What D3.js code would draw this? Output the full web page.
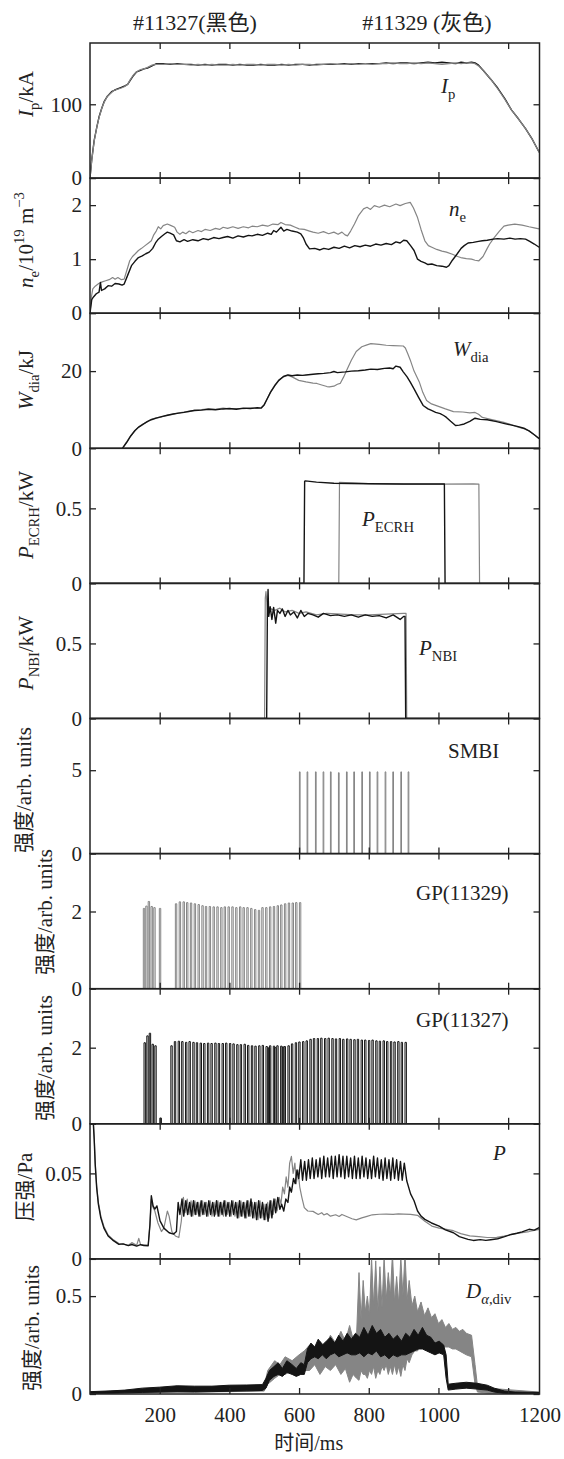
<!DOCTYPE html>
<html><head><meta charset="utf-8">
<script src="https://cdn.jsdelivr.net/npm/d3@7/dist/d3.min.js"></script>
<style>
body{margin:0;background:#fff}
svg text{fill:#222}
</style></head><body>
<svg id="chart" width="564" height="1459"></svg>
<script>
// time axis (ms)
var xMax = 1290;
var xTicks = [200, 400, 600, 800, 1000, 1200];
var xLabelAt = [200, 400, 600, 800, 1000, 1290];
var xLabels = ['200', '400', '600', '800', '1000', '1200'];

// Ip (kA)
var ipBlack = [[0,0],[5,25],[12,51],[20,70],[26,83],[34,95],[41,104],[50,111],[62,117],[70,119],[77,120.5],[90,123],[100,125],[108,127],[115,132],[125,139],[134,144],[145,146],[155,148],[165,149],[178,152],[191,155],[210,155],[230,154],[250,155],[270,154],[290,154],[310,153],[330,154],[350,153],[370,154],[390,154],[410,153],[430,154],[450,153],[470,153],[490,154],[510,153],[530,153],[550,154],[570,153],[590,154],[610,154],[630,153],[650,154],[670,154],[690,154],[710,154],[730,155],[750,154],[770,155],[790,155],[810,155],[830,155],[850,156],[870,155],[890,156],[910,156],[930,155],[950,156],[970,157],[990,156],[1010,157],[1030,156],[1050,155],[1065,157],[1080,156],[1095,157],[1105,156],[1115,153],[1130,145],[1150,134],[1170,122],[1190,108],[1210,92],[1230,80],[1250,67],[1270,52],[1289,35]];
var ipGray = [[0,0],[5,24],[12,50],[20,70],[26,82],[34,95],[41,103],[50,111],[62,116],[70,119],[77,120],[90,122],[100,124],[108,127],[115,133],[125,140],[134,144],[145,147],[155,148],[165,150],[178,153],[191,154],[210,154],[230,155],[250,154],[270,154],[290,153],[310,154],[330,153],[350,154],[370,153],[390,153],[410,154],[430,153],[450,154],[470,154],[490,153],[510,154],[530,154],[550,153],[570,154],[590,153],[610,154],[630,154],[650,153],[670,154],[690,155],[710,154],[730,154],[750,155],[770,154],[790,155],[810,154],[830,155],[850,155],[870,156],[890,155],[910,155],[930,156],[950,155],[970,156],[990,155],[1010,154],[1030,155],[1050,156],[1065,155],[1080,156],[1095,156],[1105,155],[1115,152],[1130,145],[1150,134],[1170,121],[1190,107],[1210,92],[1230,80],[1250,67],[1270,52],[1289,35]];

// ne (1e19 m^-3)
var neGray = [[0,0],[4,0.3],[8,0.45],[15,0.5],[25,0.55],[35,0.58],[45,0.6],[55,0.62],[65,0.66],[72,0.63],[80,0.66],[90,0.62],[98,0.63],[106,0.8],[114,0.97],[122,1.05],[130,1.1],[139,1.16],[148,1.2],[158,1.25],[168,1.3],[176,1.34],[183,1.45],[190,1.52],[196,1.6],[203,1.56],[210,1.62],[222,1.65],[233,1.62],[243,1.59],[250,1.5],[258,1.46],[266,1.5],[275,1.47],[285,1.52],[295,1.49],[310,1.53],[320,1.51],[330,1.55],[345,1.53],[360,1.57],[372,1.55],[382,1.59],[395,1.57],[410,1.6],[425,1.57],[440,1.6],[455,1.58],[465,1.61],[480,1.6],[495,1.63],[510,1.61],[525,1.65],[540,1.64],[548,1.68],[560,1.64],[575,1.63],[589,1.59],[600,1.56],[615,1.55],[630,1.52],[640,1.5],[655,1.48],[670,1.51],[685,1.47],[700,1.5],[712,1.46],[723,1.5],[732,1.45],[739,1.43],[748,1.52],[759,1.65],[770,1.8],[785,1.93],[795,1.96],[805,1.92],[816,1.99],[830,1.96],[845,2.0],[860,1.97],[878,2.02],[890,1.99],[905,2.03],[919,2.05],[928,1.95],[940,1.77],[950,1.55],[961,1.34],[971,1.25],[981,1.22],[995,1.18],[1010,1.15],[1023,1.13],[1040,1.09],[1055,1.05],[1064,1.03],[1080,1.01],[1095,1.0],[1105,0.98],[1116,0.97],[1128,1.05],[1140,1.2],[1147,1.28],[1160,1.4],[1175,1.52],[1188,1.61],[1200,1.63],[1219,1.65],[1240,1.63],[1260,1.6],[1275,1.58],[1289,1.56]];
var neBlack = [[0,0],[5,0.25],[10,0.3],[18,0.36],[26,0.39],[30,0.57],[33,0.42],[42,0.45],[52,0.51],[62,0.5],[72,0.55],[83,0.54],[92,0.52],[98,0.54],[108,0.7],[119,0.88],[129,0.96],[139,1.03],[150,1.06],[160,1.1],[170,1.13],[180,1.2],[188,1.3],[196,1.37],[205,1.42],[215,1.47],[222,1.5],[230,1.48],[240,1.45],[248,1.34],[258,1.32],[270,1.36],[280,1.33],[295,1.36],[310,1.34],[325,1.38],[340,1.36],[355,1.4],[370,1.38],[382,1.4],[395,1.42],[410,1.39],[425,1.43],[440,1.41],[455,1.44],[465,1.43],[480,1.46],[495,1.44],[510,1.48],[520,1.46],[527,1.53],[535,1.5],[548,1.59],[556,1.52],[565,1.55],[580,1.52],[595,1.5],[605,1.47],[612,1.4],[620,1.28],[630,1.19],[645,1.2],[660,1.17],[671,1.2],[685,1.18],[700,1.22],[715,1.2],[730,1.24],[745,1.21],[760,1.25],[775,1.23],[790,1.26],[805,1.24],[820,1.28],[835,1.26],[850,1.29],[865,1.27],[878,1.32],[890,1.3],[900,1.35],[909,1.34],[920,1.25],[930,1.16],[940,1.0],[950,0.96],[961,0.93],[970,0.9],[981,0.91],[995,0.88],[1010,0.87],[1023,0.85],[1030,0.88],[1040,0.98],[1054,1.1],[1065,1.2],[1074,1.25],[1085,1.3],[1100,1.31],[1115,1.33],[1126,1.34],[1140,1.35],[1157,1.37],[1170,1.38],[1188,1.37],[1205,1.39],[1220,1.37],[1235,1.38],[1250,1.37],[1262,1.33],[1275,1.28],[1289,1.22]];

// Wdia (kJ)
var wGray = [[93,0],[105,1.6],[117,3.3],[129,4.5],[140,5.6],[152,6.3],[164,6.8],[176,7.5],[190,7.9],[205,8.1],[220,8.6],[238,8.8],[255,9.2],[270,9.4],[285,9.5],[300,9.9],[320,10.0],[340,10.2],[360,10.1],[382,10.4],[400,10.2],[420,10.3],[440,10.3],[460,10.4],[480,10.4],[491,10.5],[500,11.2],[506,12.3],[518,14.6],[530,16.3],[542,17.7],[555,18.5],[568,18.9],[580,18.5],[599,17.6],[620,17.2],[640,16.9],[651,16.8],[665,16.4],[680,16.0],[687,15.9],[700,16.1],[710,16.6],[718,16.8],[728,18.5],[739,20.7],[750,22.8],[764,25.1],[780,26.3],[795,26.8],[806,27.1],[830,26.9],[850,26.7],[870,26.6],[899,26.5],[905,26.0],[912,24.5],[919,22.9],[930,20.0],[945,17.2],[955,14.5],[966,12.4],[980,11.5],[1002,10.8],[1020,10.2],[1043,9.5],[1070,9.4],[1090,9.2],[1105,9.3],[1115,8.8],[1126,8.0],[1150,7.5],[1188,6.7],[1210,6.1],[1229,5.5],[1245,5.1],[1260,4.5],[1275,3.5],[1289,2.5]];
var wBlack = [[93,0],[105,1.5],[117,3.2],[129,4.6],[140,5.5],[152,6.2],[164,6.9],[176,7.4],[190,7.8],[205,8.2],[220,8.5],[238,8.9],[255,9.1],[270,9.3],[285,9.6],[300,9.8],[320,9.9],[340,10.1],[360,10.0],[382,10.2],[400,10.3],[420,10.1],[440,10.4],[460,10.3],[480,10.5],[491,10.4],[500,11.3],[506,12.4],[518,14.5],[530,16.2],[542,17.6],[555,18.6],[568,19.0],[580,18.8],[595,19.0],[610,18.9],[620,19.0],[640,19.2],[655,19.3],[671,19.4],[690,19.6],[700,19.9],[710,19.6],[733,19.8],[750,20.0],[770,20.1],[790,20.3],[806,20.5],[825,20.4],[845,20.7],[860,20.8],[870,20.6],[878,21.3],[890,21.0],[899,19.8],[910,18.5],[920,17.0],[930,15.4],[943,13.2],[956,11.1],[970,10.2],[980,9.8],[992,9.3],[1005,9.0],[1015,8.5],[1023,8.0],[1035,7.0],[1049,5.9],[1060,6.0],[1074,6.3],[1090,7.0],[1105,7.8],[1120,7.5],[1140,7.4],[1167,6.9],[1190,6.4],[1210,6.0],[1229,5.6],[1245,5.2],[1260,4.5],[1275,3.5],[1289,2.5]];

// P_ECRH, P_NBI (kW, as labelled)
var ecrhBlack = [[0,0],[614,0],[616,0.68],[618,0.683],[650,0.675],[700,0.667],[800,0.664],[900,0.662],[1000,0.662],[1017,0.662],[1019,0],[1289,0]];
var ecrhGray = [[0,0],[714,0],[716,0.673],[800,0.665],[900,0.662],[1000,0.662],[1100,0.663],[1116,0.662],[1118,0],[1289,0]];
var nbiGray = [[0,0],[501,0],[503,0.8],[505,0.845],[510,0.7],[520,0.73],[530,0.72],[545,0.735],[560,0.71],[580,0.72],[600,0.7],[620,0.71],[650,0.69],[680,0.7],[720,0.695],[760,0.69],[800,0.69],[850,0.695],[900,0.7],[907,0.7],[909,0],[1289,0]];
var nbiBlack = [[0,0],[507,0],[509,0.7],[511,0.86],[513,0.68],[517,0.745],[522,0.66],[527,0.74],[533,0.635],[538,0.72],[545,0.7],[552,0.73],[560,0.68],[568,0.72],[575,0.69],[585,0.71],[595,0.67],[605,0.72],[615,0.68],[625,0.7],[640,0.69],[655,0.675],[670,0.7],[690,0.685],[710,0.69],[730,0.68],[750,0.69],[770,0.675],[790,0.69],[810,0.68],[830,0.685],[850,0.67],[870,0.69],[890,0.66],[900,0.68],[904,0.68],[906,0],[1289,0]];

// SMBI pulses (11329)
var smbiTimes = [601,623,647,669,690,713,736,757,780,802,824,847,869,892,913];
var smbiHeights = [4.9,4.9,4.9,4.9,4.9,4.85,4.9,4.9,4.9,4.9,4.9,4.9,4.9,4.9,4.9];

// gas puff pulses
var gp29Times = [153,160,167,175,183,199,245,256,267,277,288,299,310,321,331,342,353,364,375,385,396,407,418,429,439,450,461,472,483,493,504,515,526,537,547,558,569,580,590,601];
var gp29Heights = [2.08,2.14,2.26,2.13,2.1,2.08,2.2,2.25,2.25,2.23,2.22,2.2,2.18,2.15,2.13,2.13,2.12,2.12,2.1,2.12,2.12,2.12,2.1,2.12,2.1,2.1,2.08,2.05,2.03,2.1,2.1,2.12,2.13,2.15,2.17,2.2,2.22,2.22,2.23,2.23];
var gp27Times = [155,163,170,178,186,201,232,242,253,263,274,284,295,305,316,326,337,347,358,368,379,389,400,410,421,431,442,452,463,473,484,494,505,512,515,526,530,536,547,552,557,568,578,589,599,610,620,631,641,652,662,673,683,694,704,715,725,736,746,757,767,778,788,799,809,820,830,841,851,862,872,883,893,904];
var gp27Heights = [2.13,2.31,2.38,2.09,2.05,0.15,2.05,2.16,2.17,2.16,2.14,2.16,2.14,2.13,2.12,2.11,2.12,2.11,2.12,2.11,2.11,2.12,2.11,2.1,2.08,2.08,2.09,2.06,2.05,2.04,2.05,2.06,2.03,2.0,2.05,2.04,2.0,2.05,2.04,2.02,2.03,2.05,2.1,2.13,2.15,2.16,2.18,2.22,2.24,2.24,2.25,2.24,2.25,2.24,2.23,2.24,2.22,2.23,2.22,2.21,2.22,2.2,2.2,2.19,2.2,2.18,2.17,2.18,2.16,2.16,2.15,2.16,2.14,2.14];
var pulseWidth = 4;

// pressure (Pa)
var pBlack = [[0,0.09],[8,0.085],[12,0.07],[15,0.055],[19,0.042],[24,0.032],[31,0.024],[40,0.018],[52,0.0134],[65,0.011],[83,0.0085],[95,0.0088],[110,0.0078],[120,0.0084],[134,0.0075],[145,0.0083],[155,0.0078],[167,0.0077],[172,0.02],[176,0.0369],[181,0.031],[186,0.0291],[192,0.031],[201,0.0222],[212,0.018],[227,0.0153],[240,0.0145],[248,0.016],
[253,0.033],[258,0.026],[264,0.035],[269,0.025],[275,0.034],[280,0.026],[286,0.033],[291,0.025],[297,0.034],[302,0.026],[308,0.033],[313,0.025],[319,0.034],[324,0.026],[330,0.033],[335,0.025],[341,0.034],[346,0.026],[352,0.033],[357,0.025],[363,0.034],[368,0.025],[374,0.033],[379,0.026],[385,0.034],[390,0.025],[396,0.033],[401,0.025],[407,0.034],[412,0.026],[418,0.033],[423,0.024],[429,0.034],[434,0.025],[440,0.033],[445,0.024],[451,0.034],[456,0.025],[462,0.035],[467,0.024],[473,0.033],[478,0.023],[484,0.034],[489,0.024],[495,0.033],[500,0.023],[506,0.032],[511,0.022],[517,0.034],[522,0.024],[528,0.035],[533,0.027],[539,0.036],[545,0.029],[550,0.032],[556,0.028],[562,0.035],[568,0.033],[573,0.042],[578,0.039],[584,0.047],[589,0.044],[594,0.052],[599,0.047],
[605,0.058],[610,0.046],[616,0.057],[621,0.046],[627,0.058],[632,0.047],[638,0.059],[643,0.047],[649,0.058],[654,0.048],[660,0.059],[665,0.047],[671,0.06],[676,0.048],[682,0.059],[687,0.048],[693,0.06],[698,0.047],[704,0.06],[709,0.048],[715,0.061],[720,0.048],[726,0.06],[731,0.047],[737,0.06],[742,0.048],[748,0.059],[753,0.047],[759,0.06],[764,0.047],[770,0.059],[775,0.047],[781,0.06],[786,0.048],[792,0.059],[797,0.047],[803,0.058],[808,0.047],[814,0.06],[819,0.048],[825,0.059],[830,0.047],[836,0.058],[841,0.046],[847,0.059],[852,0.047],[858,0.058],[863,0.046],[869,0.059],[874,0.047],[880,0.058],[885,0.046],[891,0.057],[896,0.046],[902,0.056],
[909,0.0457],[920,0.038],[930,0.034],[940,0.028],[950,0.025],[961,0.0231],[980,0.021],[1002,0.0192],[1020,0.017],[1043,0.0153],[1060,0.013],[1085,0.0114],[1100,0.0108],[1120,0.0113],[1136,0.0108],[1150,0.0112],[1170,0.0118],[1190,0.013],[1209,0.0143],[1225,0.015],[1240,0.0158],[1260,0.0173],[1275,0.0168],[1289,0.0183]];
var pGray = [[0,0.09],[8,0.085],[12,0.072],[15,0.056],[19,0.043],[24,0.033],[31,0.025],[40,0.019],[52,0.014],[65,0.0115],[83,0.009],[95,0.0086],[110,0.008],[120,0.0095],[134,0.008],[140,0.012],[145,0.0085],[155,0.0082],[167,0.008],[172,0.02],[176,0.035],[181,0.03],[186,0.028],[195,0.021],[205,0.016],[212,0.018],[218,0.024],[222,0.028],[227,0.025],[235,0.016],[245,0.0134],[255,0.0125],[262,0.022],[268,0.036],
[273,0.027],[279,0.035],[284,0.026],[290,0.034],[295,0.025],[301,0.034],[306,0.026],[312,0.033],[317,0.025],[323,0.034],[328,0.026],[334,0.033],[339,0.025],[345,0.034],[350,0.025],[356,0.033],[361,0.026],[367,0.034],[372,0.025],[378,0.033],[383,0.025],[389,0.034],[394,0.026],[400,0.033],[405,0.025],[411,0.034],[416,0.025],[422,0.033],[427,0.024],[433,0.034],[438,0.025],[444,0.033],[449,0.024],[455,0.034],[460,0.025],[466,0.033],[471,0.024],[477,0.033],[482,0.023],[488,0.034],[493,0.024],[499,0.032],[504,0.023],[510,0.033],[515,0.024],[521,0.034],[526,0.026],[532,0.035],[537,0.028],[543,0.036],[548,0.032],[553,0.042],[558,0.038],[563,0.048],[568,0.042],[573,0.056],[578,0.06],[583,0.05],[588,0.056],[592,0.044],[597,0.052],[602,0.042],[608,0.036],[615,0.03],
[625,0.028],[640,0.0278],[655,0.026],[665,0.027],[671,0.0257],[680,0.0265],[690,0.025],[705,0.0258],[715,0.0248],[723,0.026],[740,0.0245],[752,0.0235],[764,0.0228],[780,0.024],[795,0.0249],[810,0.0258],[830,0.0261],[850,0.0262],[870,0.026],[885,0.0263],[900,0.0262],[920,0.026],[940,0.0255],[961,0.022],[981,0.0192],[1002,0.018],[1023,0.0173],[1043,0.0165],[1064,0.0148],[1090,0.0135],[1116,0.013],[1140,0.0125],[1167,0.0126],[1188,0.0133],[1209,0.0143],[1235,0.0152],[1260,0.016],[1289,0.0173]];

// D_alpha divertor: noisy band, [t, low, high]
var daBlack = [[0,0.003,0.012],[60,0.004,0.016],[100,0.006,0.02],[150,0.008,0.03],[200,0.01,0.035],[250,0.012,0.042],[300,0.01,0.04],[350,0.012,0.04],[400,0.014,0.045],[450,0.016,0.046],[495,0.018,0.048],[505,0.03,0.08],[515,0.07,0.12],[528,0.09,0.14],[540,0.1,0.16],[552,0.09,0.13],[565,0.11,0.17],[580,0.1,0.15],[592,0.09,0.13],[605,0.1,0.16],[615,0.1,0.15],[624,0.16,0.23],[634,0.18,0.26],[645,0.19,0.24],[655,0.18,0.28],[667,0.2,0.25],[678,0.18,0.27],[690,0.2,0.29],[702,0.21,0.26],[714,0.19,0.3],[726,0.2,0.27],[738,0.21,0.31],[750,0.2,0.28],[762,0.2,0.31],[774,0.21,0.29],[786,0.19,0.34],[798,0.21,0.3],[810,0.2,0.35],[822,0.22,0.31],[834,0.19,0.33],[846,0.2,0.29],[858,0.18,0.31],[870,0.2,0.28],[882,0.19,0.3],[894,0.2,0.27],[906,0.2,0.31],[918,0.21,0.29],[930,0.22,0.33],[942,0.23,0.3],[954,0.23,0.34],[966,0.22,0.3],[978,0.21,0.29],[990,0.2,0.26],[1002,0.21,0.27],[1015,0.2,0.25],[1022,0.08,0.2],[1028,0.02,0.05],[1050,0.025,0.055],[1080,0.03,0.06],[1110,0.025,0.055],[1140,0.02,0.045],[1160,0.01,0.03],[1190,0.003,0.015],[1220,0.002,0.01],[1289,0.002,0.008]];
var daGray = [[0,0.002,0.01],[100,0.004,0.016],[200,0.008,0.03],[300,0.01,0.035],[400,0.012,0.04],[500,0.015,0.04],[510,0.05,0.12],[530,0.08,0.17],[545,0.1,0.15],[560,0.1,0.19],[580,0.12,0.17],[600,0.1,0.2],[615,0.12,0.22],[630,0.12,0.25],[645,0.15,0.22],[660,0.1,0.27],[675,0.14,0.24],[690,0.12,0.3],[705,0.15,0.26],[720,0.1,0.32],[733,0.13,0.27],[745,0.06,0.35],[755,0.1,0.28],[765,0.08,0.3],[772,0.07,0.62],[778,0.12,0.38],[784,0.1,0.58],[790,0.1,0.42],[796,0.08,0.5],[802,0.12,0.4],[808,0.1,0.7],[814,0.14,0.45],[820,0.08,0.68],[826,0.12,0.42],[832,0.1,0.65],[838,0.14,0.44],[844,0.12,0.7],[850,0.15,0.48],[856,0.1,0.62],[862,0.14,0.5],[868,0.1,0.72],[874,0.15,0.47],[880,0.1,0.6],[886,0.14,0.46],[892,0.09,0.7],[898,0.15,0.5],[904,0.12,0.72],[910,0.18,0.48],[916,0.16,0.58],[924,0.2,0.45],[932,0.22,0.5],[940,0.22,0.42],[950,0.25,0.47],[960,0.25,0.4],[970,0.26,0.44],[980,0.26,0.39],[990,0.26,0.41],[1000,0.26,0.36],[1010,0.25,0.38],[1020,0.24,0.34],[1030,0.24,0.36],[1040,0.23,0.33],[1050,0.23,0.34],[1060,0.22,0.32],[1070,0.21,0.33],[1080,0.2,0.31],[1095,0.19,0.3],[1105,0.05,0.15],[1112,0.01,0.04],[1140,0.005,0.03],[1289,0.002,0.01]];

var GRAY = '#858585', BLACK = '#141414';
var LATIN = '"Liberation Serif", "DejaVu Serif", serif';
var CJK = '"Noto Sans CJK SC", sans-serif';

function pulses(times, heights, w) {
	var pts = [[0, 0]];
	times.forEach(function (t, i) {
		pts.push([t, 0], [t, heights[i]], [t + w, heights[i]], [t + w, 0]);
	});
	pts.push([xMax, 0]);
	return pts;
}

// rich label parts: i = italic, s = 'sub' | 'sup'
var panels = [
	{max: 183, ticks: [0, 100], label: [{t: 'I', i: 1}, {t: 'p', s: 'sub'}, {t: '/kA'}], lx: 26, ly: 94,
		note: [{t: 'I', i: 1}, {t: 'p', s: 'sub'}], nx: 441, ny: 93,
		lines: [[ipBlack, BLACK], [ipGray, GRAY]]},
	{max: 2.5, ticks: [0, 1, 2], label: [{t: 'n', i: 1}, {t: 'e', s: 'sub'}, {t: '/10'}, {t: '19', s: 'sup'}, {t: ' m'}, {t: '\u22123', s: 'sup'}], lx: 26, ly: 240,
		note: [{t: 'n', i: 1}, {t: 'e', s: 'sub'}], nx: 449, ny: 216,
		lines: [[neGray, GRAY], [neBlack, BLACK]]},
	{max: 35, ticks: [0, 20], label: [{t: 'W', i: 1}, {t: 'dia', s: 'sub'}, {t: '/kJ'}], lx: 26, ly: 380,
		note: [{t: 'W', i: 1}, {t: 'dia', s: 'sub'}], nx: 453, ny: 356,
		lines: [[wGray, GRAY], [wBlack, BLACK]]},
	{max: 0.9, ticks: [0, 0.5], label: [{t: 'P', i: 1}, {t: 'ECRH', s: 'sub'}, {t: '/kW'}], lx: 26, ly: 515,
		note: [{t: 'P', i: 1}, {t: 'ECRH', s: 'sub'}], nx: 362, ny: 526,
		lines: [[ecrhGray, GRAY], [ecrhBlack, BLACK]]},
	{max: 0.9, ticks: [0, 0.5], label: [{t: 'P', i: 1}, {t: 'NBI', s: 'sub'}, {t: '/kW'}], lx: 26, ly: 653,
		note: [{t: 'P', i: 1}, {t: 'NBI', s: 'sub'}], nx: 419, ny: 655,
		lines: [[nbiGray, GRAY], [nbiBlack, BLACK]]},
	{max: 8.1, ticks: [0, 5], label: [{t: '强度/arb. units'}], lx: 24, ly: 790,
		note: [{t: 'SMBI'}], nx: 448, ny: 758,
		lines: [[pulses(smbiTimes, smbiHeights, 2), GRAY]]},
	{max: 3.5, ticks: [0, 2], label: [{t: '强度/arb. units'}], lx: 45, ly: 912,
		note: [{t: 'GP(11329)'}], nx: 416, ny: 900,
		lines: [[pulses(gp29Times, gp29Heights, pulseWidth), GRAY]]},
	{max: 3.55, ticks: [0, 2], label: [{t: '强度/arb. units'}], lx: 45, ly: 1058,
		note: [{t: 'GP(11327)'}], nx: 416, ny: 1027,
		lines: [[pulses(gp27Times, gp27Heights, pulseWidth), BLACK]]},
	{max: 0.079, ticks: [0, 0.05], label: [{t: '压强/Pa'}], lx: 25, ly: 1187,
		note: [{t: 'P', i: 1}], nx: 493, ny: 1160,
		lines: [[pGray, GRAY], [pBlack, BLACK]]},
	{max: 0.69, ticks: [0, 0.5], label: [{t: '强度/arb. units'}], lx: 32, ly: 1328,
		note: [{t: 'D', i: 1}, {t: '\u03b1', i: 1, s: 'sub'}, {t: ',div', s: 'sub'}], nx: 466, ny: 1298,
		bands: [[daGray, GRAY], [daBlack, BLACK]]}
];

var svg = d3.select('#chart');
var left = 90, right = 539.5, top0 = 43, panelH = 135.1;
var x = d3.scaleLinear().domain([0, xMax]).range([left, right]);

// text with sub/superscripts; CJK and Latin runs get their own font
function richText(sel, parts, fs) {
	var t = sel.append('text').attr('font-size', fs);
	var shift = 0;
	parts.forEach(function (p) {
		var target = p.s === 'sub' ? fs * 0.3 : p.s === 'sup' ? -fs * 0.42 : 0;
		var runs = p.t.match(/[\u3000-\u9fff\uff00-\uffef]+|[^\u3000-\u9fff\uff00-\uffef]+/g);
		runs.forEach(function (r, j) {
			var isCjk = /[\u3000-\u9fff\uff00-\uffef]/.test(r);
			t.append('tspan')
				.attr('dy', j === 0 ? target - shift : null)
				.attr('font-size', p.s ? fs * 0.7 : fs)
				.style('font-family', isCjk ? CJK : LATIN)
				.style('font-style', p.i ? 'italic' : 'normal')
				.text(r);
		});
		shift = target;
	});
	return t;
}

panels.forEach(function (p, k) {
	var y0 = top0 + k * panelH, y1 = y0 + panelH;
	var y = d3.scaleLinear().domain([0, p.max]).range([y1, y0]);
	var g = svg.append('g');

	g.append('clipPath').attr('id', 'clip' + k)
		.append('rect').attr('x', left).attr('y', y0).attr('width', right - left).attr('height', panelH);
	var plot = g.append('g').attr('clip-path', 'url(#clip' + k + ')');

	if (p.bands) {
		var area = d3.area().x(function (d) { return x(d[0]); })
			.y0(function (d) { return y(d[1]); }).y1(function (d) { return y(d[2]); });
		p.bands.forEach(function (b) {
			plot.append('path').attr('d', area(b[0])).attr('fill', b[1])
				.attr('stroke', b[1]).attr('stroke-width', 1);
		});
	}
	var line = d3.line().x(function (d) { return x(d[0]); }).y(function (d) { return y(d[1]); });
	var isPulse = k >= 5 && k <= 7;
	(p.lines || []).forEach(function (s) {
		plot.append('path').attr('d', line(s[0])).attr('fill', 'none')
			.attr('stroke', s[1]).attr('stroke-width', isPulse ? 1 : (s[1] === BLACK ? 1.4 : 1.2))
			.attr('stroke-linejoin', 'round');
	});

	// inward ticks on all four sides
	var tickAxes = [
		[d3.axisBottom(x).tickValues(xTicks), 'translate(0,' + y0 + ')'],
		[d3.axisTop(x).tickValues(xTicks), 'translate(0,' + y1 + ')'],
		[d3.axisRight(y).tickValues(p.ticks), 'translate(' + left + ',0)'],
		[d3.axisLeft(y).tickValues(p.ticks), 'translate(' + right + ',0)']
	];
	tickAxes.forEach(function (a) {
		var ag = g.append('g').attr('transform', a[1])
			.call(a[0].tickSize(6).tickFormat(''));
		ag.select('.domain').remove();
		ag.selectAll('line').attr('stroke', '#222').attr('stroke-width', 1.3);
	});

	var lab = g.append('g').attr('transform', 'translate(' + left + ',0)')
		.call(d3.axisLeft(y).tickValues(p.ticks).tickSize(0).tickPadding(8)
			.tickFormat(function (d) { return String(d); }));
	lab.select('.domain').remove();
	lab.selectAll('text').attr('font-size', 21).style('font-family', LATIN).attr('fill', '#222');

	g.append('rect').attr('x', left).attr('y', y0).attr('width', right - left).attr('height', panelH)
		.attr('fill', 'none').attr('stroke', '#222').attr('stroke-width', 1.5);

	var yl = richText(g, p.label, 21)
		.attr('text-anchor', 'middle')
		.attr('transform', 'translate(' + p.lx + ',' + p.ly + ') rotate(-90)');
	yl.select('tspan').attr('x', 0).attr('y', 7);

	richText(g, p.note, 21).attr('x', p.nx).attr('y', p.ny);

	if (k === panels.length - 1) {
		var xa = svg.append('g').attr('transform', 'translate(0,' + y1 + ')')
			.call(d3.axisBottom(x).tickValues(xLabelAt).tickSize(0).tickPadding(13)
				.tickFormat(function (d, i) { return xLabels[i]; }));
		xa.select('.domain').remove();
		xa.selectAll('text').attr('font-size', 21).style('font-family', LATIN).attr('fill', '#222');
		richText(svg, [{t: '时间/ms'}], 20).attr('x', (left + right) / 2 - 6).attr('y', y1 + 56)
			.attr('text-anchor', 'middle');
	}
});

richText(svg, [{t: '#11327(黑色)'}], 22).attr('x', 195).attr('y', 30).attr('text-anchor', 'middle');
richText(svg, [{t: '#11329 (灰色)'}], 22).attr('x', 427).attr('y', 30).attr('text-anchor', 'middle');
</script>
</body></html>
